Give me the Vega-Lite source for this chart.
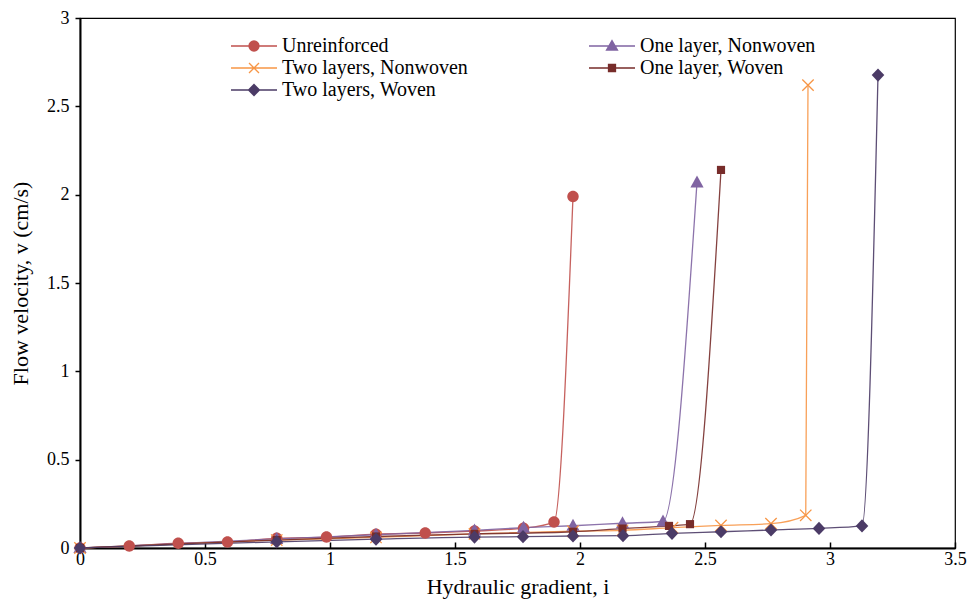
{
  "$schema": "https://vega.github.io/schema/vega-lite/v6.json",
  "width": 875,
  "height": 530,
  "autosize": "none",
  "padding": {"left": 80, "top": 18, "right": 13, "bottom": 67},
  "background": "white",
  "config": {
    "font": "Liberation Serif",
    "view": {"stroke": "#000", "strokeWidth": 1.2},
    "axis": {
      "grid": false,
      "domainColor": "#000",
      "domainWidth": 2,
      "tickColor": "#000",
      "tickWidth": 1.5,
      "labelColor": "#000",
      "labelFont": "Liberation Serif",
      "labelFontSize": 18,
      "titleColor": "#000",
      "titleFont": "Liberation Serif",
      "titleFontSize": 22,
      "titleFontWeight": "normal"
    },
    "legend": {
      "symbolSize": 400,
      "symbolStrokeWidth": 1.3,
      "labelOffset": 17,
      "labelFont": "Liberation Serif",
      "labelFontSize": 20,
      "labelColor": "#000",
      "labelLimit": 400,
      "rowPadding": 1,
      "columnPadding": 118,
      "padding": 0
    }
  },
  "data": {
    "values": [
      {"series": "Unreinforced", "i": 0, "v": 0},
      {"series": "Unreinforced", "i": 0.197, "v": 0.011},
      {"series": "Unreinforced", "i": 0.393, "v": 0.027},
      {"series": "Unreinforced", "i": 0.59, "v": 0.034},
      {"series": "Unreinforced", "i": 0.787, "v": 0.055},
      {"series": "Unreinforced", "i": 0.986, "v": 0.062},
      {"series": "Unreinforced", "i": 1.184, "v": 0.078},
      {"series": "Unreinforced", "i": 1.381, "v": 0.085},
      {"series": "Unreinforced", "i": 1.578, "v": 0.096},
      {"series": "Unreinforced", "i": 1.774, "v": 0.112},
      {"series": "Unreinforced", "i": 1.896, "v": 0.147},
      {"series": "Unreinforced", "i": 1.972, "v": 1.99},

      {"series": "One layer, Nonwoven", "i": 0, "v": 0},
      {"series": "One layer, Nonwoven", "i": 0.787, "v": 0.052},
      {"series": "One layer, Nonwoven", "i": 1.184, "v": 0.075},
      {"series": "One layer, Nonwoven", "i": 1.578, "v": 0.1},
      {"series": "One layer, Nonwoven", "i": 1.774, "v": 0.115},
      {"series": "One layer, Nonwoven", "i": 1.972, "v": 0.126},
      {"series": "One layer, Nonwoven", "i": 2.17, "v": 0.14},
      {"series": "One layer, Nonwoven", "i": 2.332, "v": 0.15},
      {"series": "One layer, Nonwoven", "i": 2.468, "v": 2.07},

      {"series": "Two layers, Nonwoven", "i": 0, "v": 0},
      {"series": "Two layers, Nonwoven", "i": 0.787, "v": 0.045},
      {"series": "Two layers, Nonwoven", "i": 1.184, "v": 0.06},
      {"series": "Two layers, Nonwoven", "i": 1.578, "v": 0.08},
      {"series": "Two layers, Nonwoven", "i": 1.972, "v": 0.095},
      {"series": "Two layers, Nonwoven", "i": 2.17, "v": 0.1},
      {"series": "Two layers, Nonwoven", "i": 2.37, "v": 0.115},
      {"series": "Two layers, Nonwoven", "i": 2.564, "v": 0.128},
      {"series": "Two layers, Nonwoven", "i": 2.764, "v": 0.138},
      {"series": "Two layers, Nonwoven", "i": 2.903, "v": 0.185},
      {"series": "Two layers, Nonwoven", "i": 2.912, "v": 2.62},

      {"series": "One layer, Woven", "i": 0, "v": 0},
      {"series": "One layer, Woven", "i": 0.787, "v": 0.045},
      {"series": "One layer, Woven", "i": 1.184, "v": 0.065},
      {"series": "One layer, Woven", "i": 1.578, "v": 0.08},
      {"series": "One layer, Woven", "i": 1.972, "v": 0.092},
      {"series": "One layer, Woven", "i": 2.17, "v": 0.11},
      {"series": "One layer, Woven", "i": 2.356, "v": 0.125},
      {"series": "One layer, Woven", "i": 2.44, "v": 0.135},
      {"series": "One layer, Woven", "i": 2.564, "v": 2.14},

      {"series": "Two layers, Woven", "i": 0, "v": 0},
      {"series": "Two layers, Woven", "i": 0.787, "v": 0.035},
      {"series": "Two layers, Woven", "i": 1.184, "v": 0.05},
      {"series": "Two layers, Woven", "i": 1.578, "v": 0.062},
      {"series": "Two layers, Woven", "i": 1.772, "v": 0.064},
      {"series": "Two layers, Woven", "i": 1.972, "v": 0.068},
      {"series": "Two layers, Woven", "i": 2.172, "v": 0.07},
      {"series": "Two layers, Woven", "i": 2.368, "v": 0.083},
      {"series": "Two layers, Woven", "i": 2.564, "v": 0.092},
      {"series": "Two layers, Woven", "i": 2.764, "v": 0.102},
      {"series": "Two layers, Woven", "i": 2.956, "v": 0.111},
      {"series": "Two layers, Woven", "i": 3.128, "v": 0.125},
      {"series": "Two layers, Woven", "i": 3.192, "v": 2.677}
    ]
  },
  "encoding": {
    "x": {
      "field": "i",
      "type": "quantitative",
      "scale": {"domain": [0, 3.5], "nice": false, "zero": false},
      "axis": {
        "title": "Hydraulic gradient, i",
        "values": [0, 0.5, 1, 1.5, 2, 2.5, 3, 3.5],
        "format": "~g",
        "tickSize": -6,
        "labelPadding": 8,
        "titlePadding": 8,
        "labelFlush": false
      }
    },
    "y": {
      "field": "v",
      "type": "quantitative",
      "scale": {"domain": [0, 3], "nice": false},
      "axis": {
        "title": "Flow velocity, v (cm/s)",
        "values": [0, 0.5, 1, 1.5, 2, 2.5, 3],
        "format": "~g",
        "tickSize": 5,
        "labelPadding": 6,
        "titlePadding": 14,
        "labelFlush": false
      }
    }
  },
  "layer": [
    {
      "mark": {"type": "point", "filled": true, "opacity": 0, "strokeWidth": 1.3},
      "encoding": {
        "shape": {
          "field": "series",
          "type": "nominal",
          "scale": {
            "domain": ["Unreinforced", "One layer, Nonwoven", "Two layers, Nonwoven", "One layer, Woven", "Two layers, Woven"],
            "range": [
              "M-2.3,0H2.3M-0.5,0A0.5,0.5,0,1,0,0.5,0A0.5,0.5,0,1,0,-0.5,0M-0.38,0A0.38,0.38,0,1,0,0.38,0A0.38,0.38,0,1,0,-0.38,0M-0.26,0A0.26,0.26,0,1,0,0.26,0A0.26,0.26,0,1,0,-0.26,0M-0.14,0A0.14,0.14,0,1,0,0.14,0A0.14,0.14,0,1,0,-0.14,0M-0.04,0A0.04,0.04,0,1,0,0.04,0A0.04,0.04,0,1,0,-0.04,0",
              "M-2.3,0H2.3M0,-0.55L0.55,0.4L-0.55,0.4ZM0,-0.361L0.385,0.304L-0.385,0.304ZM0,-0.172L0.22,0.208L-0.22,0.208ZM0,-0.015L0.083,0.128L-0.083,0.128Z",
              "M-2.3,0H2.3M-0.5,-0.5L0.5,0.5M-0.5,0.5L0.5,-0.5",
              "M-2.3,0H2.3M-0.35,-0.35H0.35V0.35H-0.35ZM-0.24,-0.24H0.24V0.24H-0.24ZM-0.13,-0.13H0.13V0.13H-0.13ZM-0.03,-0.03H0.03V0.03H-0.03Z",
              "M-2.3,0H2.3M0,-0.55L0.55,0L0,0.55L-0.55,0ZM0,-0.4L0.4,0L0,0.4L-0.4,0ZM0,-0.25L0.25,0L0,0.25L-0.25,0ZM0,-0.1L0.1,0L0,0.1L-0.1,0Z"
            ]
          },
          "legend": {"title": null, "orient": "none", "direction": "horizontal", "legendX": 163, "legendY": 17, "columns": 2}
        },
        "fill": {
          "field": "series",
          "type": "nominal",
          "scale": {
            "domain": ["Unreinforced", "One layer, Nonwoven", "Two layers, Nonwoven", "One layer, Woven", "Two layers, Woven"],
            "range": ["#C0504D", "#8064A2", "#F79646", "#772C2A", "#4B3B66"]
          },
          "legend": {"title": null, "orient": "none", "direction": "horizontal", "legendX": 163, "legendY": 17, "columns": 2}
        },
        "stroke": {
          "field": "series",
          "type": "nominal",
          "scale": {
            "domain": ["Unreinforced", "One layer, Nonwoven", "Two layers, Nonwoven", "One layer, Woven", "Two layers, Woven"],
            "range": ["#C0504D", "#8064A2", "#F79646", "#772C2A", "#4B3B66"]
          },
          "legend": {"title": null, "orient": "none", "direction": "horizontal", "legendX": 163, "legendY": 17, "columns": 2}
        }
      }
    },
    {
      "mark": {"type": "line", "interpolate": "monotone", "strokeWidth": 1.3, "opacity": 0.9},
      "encoding": {
        "order": {"field": "i", "type": "quantitative"},
        "color": {
          "field": "series",
          "type": "nominal",
          "scale": {
            "domain": ["Unreinforced", "One layer, Nonwoven", "Two layers, Nonwoven", "One layer, Woven", "Two layers, Woven"],
            "range": ["#C0504D", "#8064A2", "#F79646", "#772C2A", "#4B3B66"]
          },
          "legend": null
        }
      }
    },
    {
      "transform": [{"filter": "datum.series === 'Unreinforced'"}],
      "mark": {"type": "point", "filled": true, "opacity": 1, "size": 144,
        "shape": "M-0.95,0A0.95,0.95,0,1,0,0.95,0A0.95,0.95,0,1,0,-0.95,0Z"},
      "encoding": {"color": {"field": "series", "type": "nominal", "legend": null}}
    },
    {
      "transform": [{"filter": "datum.series === 'One layer, Nonwoven'"}],
      "mark": {"type": "point", "filled": true, "opacity": 1, "size": 144,
        "shape": "M0,-1.15L1.1,0.85L-1.1,0.85Z"},
      "encoding": {"color": {"field": "series", "type": "nominal", "legend": null}}
    },
    {
      "transform": [{"filter": "datum.series === 'Two layers, Nonwoven'"}],
      "mark": {"type": "point", "filled": false, "opacity": 1, "size": 144, "strokeWidth": 1.3,
        "shape": "M-0.95,-0.95L0.95,0.95M-0.95,0.95L0.95,-0.95"},
      "encoding": {"color": {"field": "series", "type": "nominal", "legend": null}}
    },
    {
      "transform": [{"filter": "datum.series === 'One layer, Woven'"}],
      "mark": {"type": "point", "filled": true, "opacity": 1, "size": 144,
        "shape": "M-0.68,-0.68H0.68V0.68H-0.68Z"},
      "encoding": {"color": {"field": "series", "type": "nominal", "legend": null}}
    },
    {
      "transform": [{"filter": "datum.series === 'Two layers, Woven'"}],
      "mark": {"type": "point", "filled": true, "opacity": 1, "size": 144,
        "shape": "M0,-1.1L1.05,0L0,1.1L-1.05,0Z"},
      "encoding": {"color": {"field": "series", "type": "nominal", "legend": null}}
    }
  ]
}
